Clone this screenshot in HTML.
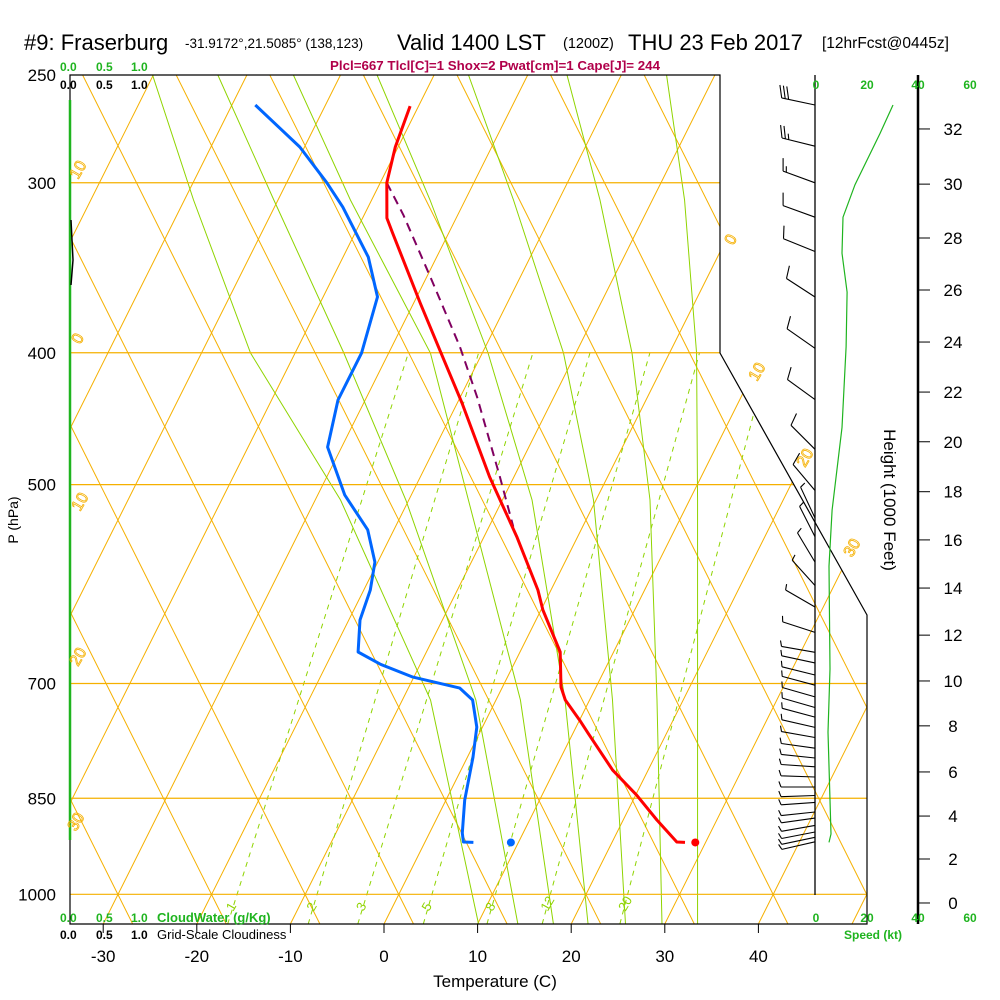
<!DOCTYPE html>
<html><head><meta charset="utf-8"><title>Skew-T Fraserburg</title>
<style>
html,body{margin:0;padding:0;background:#fff;}
svg{display:block;font-family:"Liberation Sans",Arial,sans-serif;}
</style></head>
<body>
<svg id="chart" width="1000" height="1000" viewBox="0 0 1000 1000" xmlns="http://www.w3.org/2000/svg">
<defs><clipPath id="plotclip"><path d="M70,75 L720,75 L720,353 L867,615 L867,924 L70,924 Z"/></clipPath></defs>
<rect x="0" y="0" width="1000" height="1000" fill="#fff"/>
<g id="title">
<text x="24" y="50" font-size="22">#9: Fraserburg</text>
<text x="185" y="48" font-size="13.5">-31.9172°,21.5085° (138,123)</text>
<text x="397" y="50" font-size="22">Valid 1400 LST</text>
<text x="563" y="48" font-size="14.5">(1200Z)</text>
<text x="628" y="50" font-size="22">THU 23 Feb 2017</text>
<text x="822" y="48" font-size="15.5">[12hrFcst@0445z]</text>
</g>
<text x="330" y="70" font-size="12.5" font-weight="bold" fill="#b0004a" textLength="330" lengthAdjust="spacingAndGlyphs">Plcl=667 Tlcl[C]=1 Shox=2 Pwat[cm]=1 Cape[J]= 244</text>
<g id="bg" clip-path="url(#plotclip)"></g>
<g id="frame"></g>
<g id="data"></g>
<g id="labels"></g>
</svg>
<script>
// ---- data ----
var tempP = [263.5,282.4,300,318.5,326.6,367.7,398.2,435.5,493.5,546,597.6,618.1,663.7,704.2,719.8,744.7,761.3,810.5,845.5,881.9,915.3,916];
var tempT = [-40.9,-40.3,-39.3,-37.4,-36.0,-29.3,-24.7,-19.5,-12.6,-6.5,-1.4,0.2,4.3,6.25,7.4,10.0,11.6,16.2,20.1,23.6,26.9,27.8];
var dewP = [263,282.4,300,312.6,340.2,363.9,400.1,433.3,469.2,508.9,539.7,570,597.6,628.7,663.7,677.4,692.5,705.5,719.8,753.6,792.9,852.7,901.5,915.3,916];
var dewT = [-57.5,-50.5,-45.7,-42.7,-37.3,-34.2,-32.9,-32.9,-31.5,-27.1,-22.8,-20.3,-19.3,-18.8,-17.3,-14.3,-10.1,-4.5,-2.5,-0.6,0.6,2.0,3.5,4.1,5.2];
var parcelP = [300,316.8,353.7,396.1,431.1,493.5,537];
var parcelT = [-39.3,-35.8,-29.3,-22.7,-18.2,-11.5,-7.4];
var sfcP = 916;
var sfcT = 28.9;
var sfcTd = 9.2;
var windP = [263,282,300,318,337,364,397,433,471,505,529,546,570,593,615,642,664,676,690,702,716,729,741,754,767,781,794,806,820,834,846,856,870,879,890,900,908,915];
var windDir = [282,284,290,290,292,303,305,306,315,320,335,333,329,318,300,288,280,282,284,285,286,286,285,283,280,278,276,274,272,270,268,266,264,262,260,259,258,257];
var windSpd = [30,25,15,10,10,10,10,10,10,10,5,5,5,5,5,5,5,5,5,5,5,5,5,5,5,5,5,5,5,5,5,5,5,5,5,5,5,5];
var spdP = [263,276,301,318,338,361,396,454,522,574,683,760,903,916];
var spdV = [30.2,25.1,15.3,10.6,10.2,12.2,11.8,10.2,6.3,5.1,5.5,4.7,5.9,5.1];
var tempTicks = [-30,-20,-10,0,10,20,30,40];
var pressTicks = [250,300,400,500,700,850,1000];
var heightTicks = [0,2,4,6,8,10,12,14,16,18,20,22,24,26,28,30,32];
var heightTickP = [1014.8,942,876,813,752,697,645,595.6,549,506,465,427.5,392.8,359.7,329.4,300.7,273.9];
var mixLabels = ["1","2","3","5","8","12","20"];
var mixBottomT = [-16.7,-8.1,-2.8,4.2,11.0,16.9,25.2];
var mixTopT = [-27.9,-20.4,-14.6,-8.5,-2.1,3.2,10.7];
var moistBottomT = [10.1,14.3,18.1,21.8,25.8,29.7,33.5];

// ---- axis functions ----
function Y(p){return 75+591*Math.log(p/250);}
function X(T,p){return 384+9.36*T+0.5*(924-Y(p));}
function XatY(T,y){return 384+9.36*T+0.5*(924-y);}
var NS="http://www.w3.org/2000/svg";
function mk(tag,attrs,parent){var e=document.createElementNS(NS,tag);for(var k in attrs)e.setAttribute(k,attrs[k]);parent.appendChild(e);return e;}
var bg=document.getElementById('bg'),frame=document.getElementById('frame'),data=document.getElementById('data'),labels=document.getElementById('labels');
var OR="#f5b000", GR="#8fd400", DG="#1fb41f";

for(var k=-12;k<=12;k++){
  var x0=384+93.6*k;
  var l=mk('line',{x1:x0,y1:924,x2:x0+424.5,y2:75,stroke:OR,'stroke-width':1},bg);
  
  
  var x1=413.5+93.6*k;
  var l2=mk('line',{x1:x1,y1:924,x2:x1-424.5,y2:75,stroke:OR,'stroke-width':1},bg);
  
  
}
pressTicks.forEach(function(p){
  if(p===250)return;
  var y=Y(p);
  var xr = y<353?720:Math.min(867,720+147*(y-353)/262);
  var l=mk('line',{x1:70,y1:y,x2:xr,y2:y,stroke:OR,'stroke-width':1.2},frame);
  
  
});
var moistShapeY=[924,700,500,353,200,75];
var moistCurves=[[478,430,340,250,193,152],[517,475,405,343,273,217],[553,520,468,430,350,293],[588,565,532,488,430,377],[625,612,593,563,513,468],[662,657,650,632,600,567],[698,698,698,697,685,667]];
moistCurves.forEach(function(c,i){
  var base=XatY(moistBottomT[i],924), sh=base-c[0];
  var d=c.map(function(x,j){return (j?'L':'M')+(x+sh)+','+moistShapeY[j];}).join(' ');
  var pth=mk('path',{d:d,fill:'none',stroke:GR,'stroke-width':1},bg);
  
  
});
mixLabels.forEach(function(lb,i){
  var l=mk('line',{x1:XatY(mixBottomT[i],924),y1:924,x2:XatY(mixTopT[i],353),y2:353,stroke:GR,'stroke-width':1,'stroke-dasharray':'5,5'},bg);
  
  
  var tx=XatY(mixBottomT[i],924)+2;
  var t=mk('text',{x:tx,y:914,'font-size':13,fill:GR,transform:'rotate(-60 '+tx+' 910)'},labels);
  t.textContent=lb;
  
  
});
var fr=mk('path',{d:'M70,75 L720,75 L720,353 L867,615 L867,924 L70,924 Z',fill:'none',stroke:'#000','stroke-width':1.2},frame);


var cw=mk('line',{x1:70,y1:100,x2:70,y2:840,stroke:DG,'stroke-width':2.5},frame);


var cl=mk('path',{d:'M71,220 L72,240 L73,260 L71,285',fill:'none',stroke:'#000','stroke-width':1.5},frame);


tempTicks.forEach(function(t){
  var x=XatY(t,924);
  var tk=mk('line',{x1:x,y1:924,x2:x,y2:933,stroke:'#000','stroke-width':1},frame);
  
  
  var tl=mk('text',{x:x,y:962,'font-size':17,'text-anchor':'middle'},labels);
  tl.textContent=t;
  
  
});
pressTicks.forEach(function(p){
  var t=mk('text',{x:56,y:Y(p)+6,'font-size':17,'text-anchor':'end'},labels);
  t.textContent=p;
  
  
});
[["10",78,180],["0",80,345],["10",80,512],["20",78,667],["30",76,832],["0",733,246],["10",757,382],["20",805,468],["30",852,558]].forEach(function(a){
  var t=mk('text',{x:a[1],y:a[2],'font-size':16,fill:'none',stroke:OR,'stroke-width':0.8,transform:'rotate(-60 '+a[1]+' '+a[2]+')'},labels);
  t.textContent=a[0];
  
  
});
var sa=mk('line',{x1:815,y1:75,x2:815,y2:895,stroke:'#000','stroke-width':1.3},frame);


var ha=mk('line',{x1:918,y1:75,x2:918,y2:924,stroke:'#000','stroke-width':2.5},frame);


heightTicks.forEach(function(h,i){
  var y=Y(heightTickP[i]);
  var tk=mk('line',{x1:918,y1:y,x2:930,y2:y,stroke:'#000','stroke-width':1},frame);
  
  
  var t=mk('text',{x:953,y:y+6,'font-size':17,'text-anchor':'middle'},labels);
  t.textContent=h;
  
  
});
function poly(P,T,attrs,name){
  var d=P.map(function(p,i){return (i?'L':'M')+X(T[i],p).toFixed(1)+','+Y(p).toFixed(1);}).join(' ');
  attrs.d=d;attrs.fill='none';
  var e=mk('path',attrs,data);
  
  
}
poly(parcelP,parcelT,{stroke:'#800060','stroke-width':2,'stroke-dasharray':'9,6'},'parcel-path');
poly(tempP,tempT,{stroke:'#ff0000','stroke-width':3,'stroke-linejoin':'round'},'temperature-profile');
poly(dewP,dewT,{stroke:'#0066ff','stroke-width':3,'stroke-linejoin':'round'},'dewpoint-profile');
var sd=mk('circle',{cx:X(sfcT,sfcP),cy:Y(sfcP),r:4,fill:'#ff0000'},data);


var sd2=mk('circle',{cx:X(sfcTd,sfcP),cy:Y(sfcP),r:4,fill:'#0066ff'},data);


function SX(v){return 816+2.55*v;}
var sp=spdP.map(function(p,i){return (i?'L':'M')+SX(spdV[i]).toFixed(1)+','+Y(p).toFixed(1);}).join(' ');
var spl=mk('path',{d:sp,fill:'none',stroke:DG,'stroke-width':1.2},data);


windP.forEach(function(p,i){
  var y=Y(p), d=windDir[i]*Math.PI/180, len=34;
  var ux=Math.sin(d), uy=-Math.cos(d);
  var ex=815+ux*len, ey=y+uy*len;
  var s='M815,'+y.toFixed(1)+' L'+ex.toFixed(1)+','+ey.toFixed(1);
  var a=Math.atan2(uy,ux)+70*Math.PI/180, fx=Math.cos(a), fy=Math.sin(a);
  var spd=windSpd[i], n=Math.floor(spd/10), half=(spd%10)>=5, pos=0;
  for(var j=0;j<n;j++){var bx=ex-ux*pos, by=ey-uy*pos;s+=' M'+bx.toFixed(1)+','+by.toFixed(1)+' l'+(fx*13).toFixed(1)+','+(fy*13).toFixed(1);pos+=3.5;}
  if(half){var bx2=ex-ux*pos, by2=ey-uy*pos;s+=' M'+bx2.toFixed(1)+','+by2.toFixed(1)+' l'+(fx*6).toFixed(1)+','+(fy*6).toFixed(1);}
  var b=mk('path',{d:s,fill:'none',stroke:'#000','stroke-width':1.1},data);
  
  
});
function txt(s,x,y,size,fill,name,extra){var t=mk('text',Object.assign({x:x,y:y,'font-size':size,fill:fill},extra||{}),labels);t.textContent=s;return t;}
[["0.0",60],["0.5",96],["1.0",131]].forEach(function(a){
  txt(a[0],a[1],71,12,DG,'cloudwater-scale-label',{'font-weight':'bold'});
  txt(a[0],a[1],89,12,'#000','cloudiness-scale-label',{'font-weight':'bold'});
  txt(a[0],a[1],922,12,DG,'cloudwater-scale-label',{'font-weight':'bold'});
  txt(a[0],a[1],939,12,'#000','cloudiness-scale-label',{'font-weight':'bold'});
});
txt("CloudWater (g/Kg)",157,922,13,DG,'cloudwater-legend',{'font-weight':'bold'});
txt("Grid-Scale Cloudiness",157,939,13,'#000','cloudiness-legend');
[["0",816],["20",867],["40",918],["60",970]].forEach(function(a){
  txt(a[0],a[1],89,12,DG,'speed-scale-label',{'text-anchor':'middle','font-weight':'bold'});
  txt(a[0],a[1],922,12,DG,'speed-scale-label',{'text-anchor':'middle','font-weight':'bold'});
});
txt("Speed (kt)",873,939,12,DG,'speed-axis-title',{'text-anchor':'middle','font-weight':'bold'});
txt("Temperature (C)",495,987,17,'#000','x-axis-title',{'text-anchor':'middle'});
txt("P (hPa)",18,520,14,'#000','y-axis-title',{'text-anchor':'middle',transform:'rotate(-90 18 520)'});
txt("Height (1000 Feet)",884,500,17,'#000','height-axis-title',{'text-anchor':'middle',transform:'rotate(90 884 500)'});
</script>
</body></html>
